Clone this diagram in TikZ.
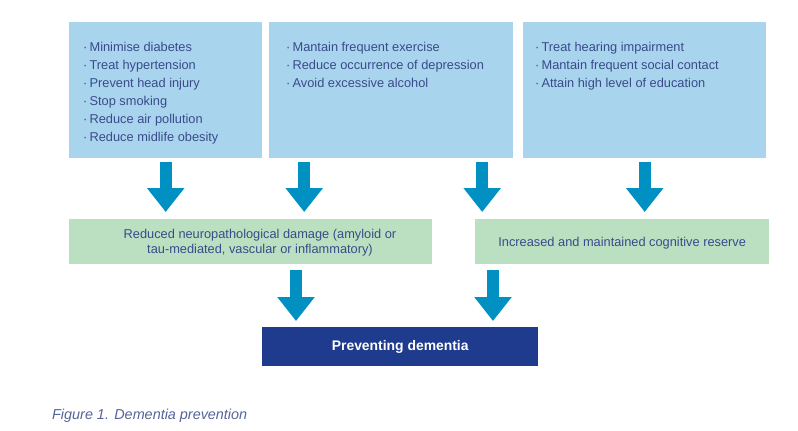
\documentclass[tikz,border=0pt]{standalone}
\usepackage{fontspec}
\setmainfont{Liberation Sans}
\usetikzlibrary{arrows.meta}
\definecolor{boxblue}{HTML}{A9D4EE}
\definecolor{boxgreen}{HTML}{BBE0C1}
\definecolor{arrowblue}{HTML}{0090C2}
\definecolor{navy}{HTML}{1F3B8E}
\definecolor{txt}{HTML}{3A4A8A}
\definecolor{captxt}{HTML}{55649A}
\begin{document}
\begin{tikzpicture}[x=1pt,y=-1pt,
  bluebox/.style={fill=boxblue, draw=none, anchor=north west, minimum height=136pt, inner sep=0pt},
  greenbox/.style={fill=boxgreen, draw=none, anchor=north west, minimum height=45pt, inner sep=0pt},
  listtext/.style={anchor=north west, inner sep=0pt, align=left, text=txt, font=\fontsize{12.8}{18}\selectfont},
  midtext/.style={inner sep=0pt, align=center, text=txt, font=\fontsize{12.8}{15}\selectfont},
  barrow/.style={draw=arrowblue, line width=12pt, -{Triangle[width=36pt,length=24pt]}},
]
\useasboundingbox (0,0) rectangle (798,431);
% top boxes
\node[bluebox, minimum width=193pt] (b1) at (69,22) {};
\node[bluebox, minimum width=244pt] (b2) at (269,22) {};
\node[bluebox, minimum width=243pt] (b3) at (523,22) {};
\node[listtext] (t1) at (83,42) {·\,Minimise diabetes\\·\,Treat hypertension\\·\,Prevent head injury\\·\,Stop smoking\\·\,Reduce air pollution\\·\,Reduce midlife obesity};
\node[listtext] (t2) at (286,42) {·\,Mantain frequent exercise\\·\,Reduce occurrence of depression\\·\,Avoid excessive alcohol};
\node[listtext] (t3) at (535,42) {·\,Treat hearing impairment\\·\,Mantain frequent social contact\\·\,Attain high level of education};
% middle boxes
\node[greenbox, minimum width=363pt] (g1) at (69,219) {};
\node[greenbox, minimum width=294pt] (g2) at (475,219) {};
\node[midtext] (gt1) at (260,243) {Reduced neuropathological damage (amyloid or\\tau-mediated, vascular or inflammatory)};
\node[midtext] (gt2) at ([yshift=-1pt]g2.center) {Increased and maintained cognitive reserve};
% bottom box
\node[fill=navy, draw=none, anchor=north west, minimum width=276pt, minimum height=39pt, inner sep=0pt,
      text=white, font=\bfseries\fontsize{13.9}{16}\selectfont] (pd) at (262,327) {\raisebox{-1.5pt}{Preventing dementia}};
% caption
\node[anchor=west, inner sep=0pt, text=captxt, font=\itshape\fontsize{14.4}{17}\selectfont] (cap) at (52,416) {Figure 1. Dementia prevention};
% arrows
\draw[barrow, shorten <=4pt, shorten >=7pt] (b1.south) -- (b1.south |- g1.north);
\coordinate (a2) at ([xshift=-87pt]b2.south);
\coordinate (a3) at ([xshift=91pt]b2.south);
\draw[barrow, shorten <=4pt, shorten >=7pt] (a2) -- (a2 |- g1.north);
\draw[barrow, shorten <=4pt, shorten >=7pt] (a3) -- (a3 |- g2.north);
\draw[barrow, shorten <=4pt, shorten >=7pt] (b3.south) -- (b3.south |- g2.north);
\coordinate (p5) at ([xshift=34pt]pd.north west);
\coordinate (p6) at ([xshift=231pt]pd.north west);
\draw[barrow, shorten <=6pt, shorten >=6pt] (g1.south -| p5) -- (p5);
\draw[barrow, shorten <=6pt, shorten >=6pt] (g2.south -| p6) -- (p6);
\end{tikzpicture}
\end{document}
